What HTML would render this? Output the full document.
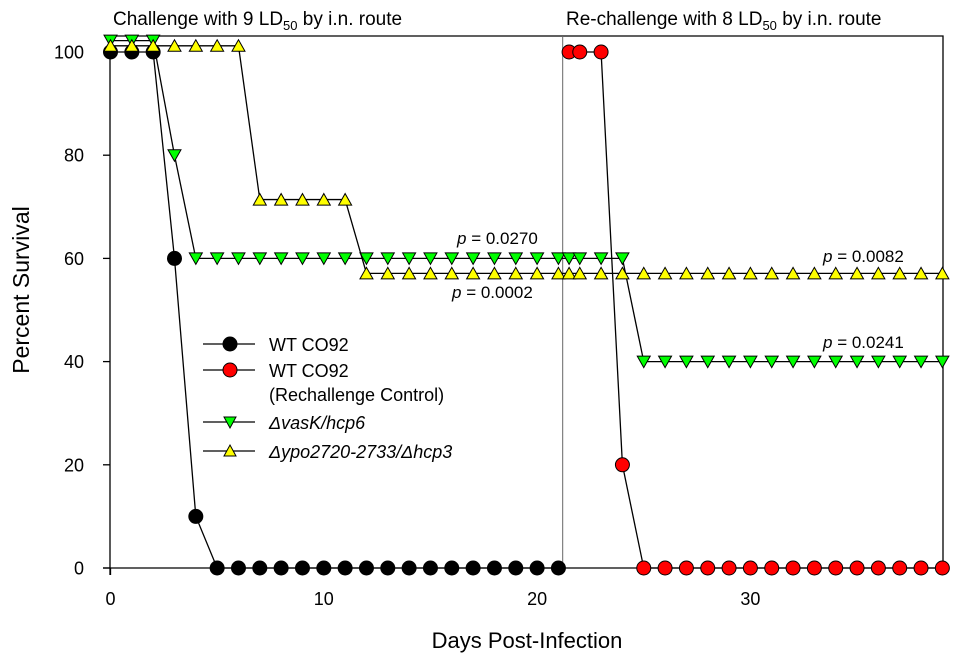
<!DOCTYPE html>
<html><head><meta charset="utf-8"><style>
html,body{margin:0;padding:0;background:#fff;}
svg{display:block;font-family:"Liberation Sans",sans-serif;}
</style></head><body>
<svg id="chart" width="957" height="664" viewBox="0 0 957 664" xmlns="http://www.w3.org/2000/svg">
<g id="axes"></g><g id="series"></g>
<text x="113" y="25" font-size="19">Challenge with 9 LD<tspan font-size="13" dy="5">50</tspan><tspan dy="-5"> by i.n. route</tspan></text>
<text x="566" y="25" font-size="19">Re-challenge with 8 LD<tspan font-size="13" dy="5">50</tspan><tspan dy="-5"> by i.n. route</tspan></text>
<text x="527" y="648" font-size="22" text-anchor="middle">Days Post-Infection</text>
<text transform="translate(29,290) rotate(-90)" font-size="23" text-anchor="middle">Percent Survival</text>
<text x="457" y="244" font-size="17"><tspan font-style="italic">p</tspan> = 0.0270</text>
<text x="452" y="298" font-size="17"><tspan font-style="italic">p</tspan> = 0.0002</text>
<text x="823" y="262" font-size="17"><tspan font-style="italic">p</tspan> = 0.0082</text>
<text x="823" y="348" font-size="17"><tspan font-style="italic">p</tspan> = 0.0241</text>
<g>
<line x1="203" y1="344" x2="255" y2="344" stroke="#000" stroke-width="1.3"/><circle cx="230" cy="344" r="7" fill="#000" stroke="#000"/>
<text x="269" y="351" font-size="18">WT CO92</text>
<line x1="203" y1="370" x2="255" y2="370" stroke="#000" stroke-width="1.3"/><circle cx="230" cy="370" r="7" fill="#f00" stroke="#000"/>
<text x="269" y="377" font-size="18">WT CO92</text>
<text x="269" y="401" font-size="18">(Rechallenge Control)</text>
<line x1="203" y1="422" x2="255" y2="422" stroke="#000" stroke-width="1.3"/><polygon points="224,417 236,417 230,428" fill="#0f0" stroke="#000"/>
<text x="269" y="429" font-size="18" font-style="italic">ΔvasK/hcp6</text>
<line x1="203" y1="451" x2="255" y2="451" stroke="#000" stroke-width="1.3"/><polygon points="224,456 236,456 230,445" fill="#ff0" stroke="#000"/>
<text x="269" y="458" font-size="18" font-style="italic">Δypo2720-2733/Δhcp3</text>
</g>
</svg>
<script>
const xTicks=[0,10,20,30];
const yTicks=[0,20,40,60,80,100];
const wtDays=[0,1,2,3,4,5,6,7,8,9,10,11,12,13,14,15,16,17,18,19,20,21];
const wtVals=[100,100,100,60,10,0,0,0,0,0,0,0,0,0,0,0,0,0,0,0,0,0];
const redDays=[21.5,22,23,24,25,26,27,28,29,30,31,32,33,34,35,36,37,38,39];
const redVals=[100,100,100,20,0,0,0,0,0,0,0,0,0,0,0,0,0,0,0];
const vasDays=[0,1,2,3,4,5,6,7,8,9,10,11,12,13,14,15,16,17,18,19,20,21,21.5,22,23,24,25,26,27,28,29,30,31,32,33,34,35,36,37,38,39];
const vasVals=[102.2,102.2,102.2,80,60,60,60,60,60,60,60,60,60,60,60,60,60,60,60,60,60,60,60,60,60,60,40,40,40,40,40,40,40,40,40,40,40,40,40,40,40];
const ypoDays=[0,1,2,3,4,5,6,7,8,9,10,11,12,13,14,15,16,17,18,19,20,21,21.5,22,23,24,25,26,27,28,29,30,31,32,33,34,35,36,37,38,39];
const ypoVals=[101.2,101.2,101.2,101.2,101.2,101.2,101.2,71.4,71.4,71.4,71.4,71.4,57.1,57.1,57.1,57.1,57.1,57.1,57.1,57.1,57.1,57.1,57.1,57.1,57.1,57.1,57.1,57.1,57.1,57.1,57.1,57.1,57.1,57.1,57.1,57.1,57.1,57.1,57.1,57.1,57.1];
const rechallengeDay=21.2;

const NS="http://www.w3.org/2000/svg";
const X=d=>110.5+d*21.33;
const Y=v=>568-v*5.16;
function mk(tag,attrs,parent){const e=document.createElementNS(NS,tag);for(const k in attrs)e.setAttribute(k,attrs[k]);parent.appendChild(e);return e;}
const axes=document.getElementById('axes'),ser=document.getElementById('series');
let fr=mk('path',{d:'M110 575 V36 H943 V568 M103 568 H943',fill:'none',stroke:'#000','stroke-width':1.3},axes);


let vl=mk('line',{x1:X(rechallengeDay),x2:X(rechallengeDay),y1:36,y2:568,stroke:'#666','stroke-width':1},axes);


xTicks.forEach(t=>{
 const l=mk('line',{x1:X(t),x2:X(t),y1:568,y2:575,stroke:'#000','stroke-width':1.3},axes);
 
 
 const tx=mk('text',{x:X(t),y:605,'font-size':18,'text-anchor':'middle'},axes);tx.textContent=t;
 
 
});
yTicks.forEach(t=>{
 const l=mk('line',{x1:103,x2:110,y1:Y(t),y2:Y(t),stroke:'#000','stroke-width':1.3},axes);
 
 
 const tx=mk('text',{x:84,y:Y(t)+6.5,'font-size':18,'text-anchor':'end'},axes);tx.textContent=t;
 
 
});
function series(name,days,vals,shape,fill){
 const g=mk('g',{},ser);
 
 
 const pl=mk('polyline',{points:days.map((d,i)=>X(d)+','+Y(vals[i])).join(' '),fill:'none',stroke:'#000','stroke-width':1.3},g);
 
 
 days.forEach((d,i)=>{
  const x=X(d),y=Y(vals[i]);let m;
  if(shape==='c')m=mk('circle',{cx:x,cy:y,r:7,fill:fill,stroke:'#000','stroke-width':1},g);
  else if(shape==='d')m=mk('polygon',{points:`${x-6.5},${y-5.5} ${x+6.5},${y-5.5} ${x},${y+6}`,fill:fill,stroke:'#000','stroke-width':1},g);
  else m=mk('polygon',{points:`${x-6.5},${y+5.5} ${x+6.5},${y+5.5} ${x},${y-6}`,fill:fill,stroke:'#000','stroke-width':1},g);
  
  
 });
}
series('wt-co92',wtDays,wtVals,'c','#000');
series('vask-hcp6',vasDays,vasVals,'d','#0f0');
series('ypo-hcp3',ypoDays,ypoVals,'u','#ff0');
series('wt-rechallenge',redDays,redVals,'c','#f00');
</script>
</body></html>
